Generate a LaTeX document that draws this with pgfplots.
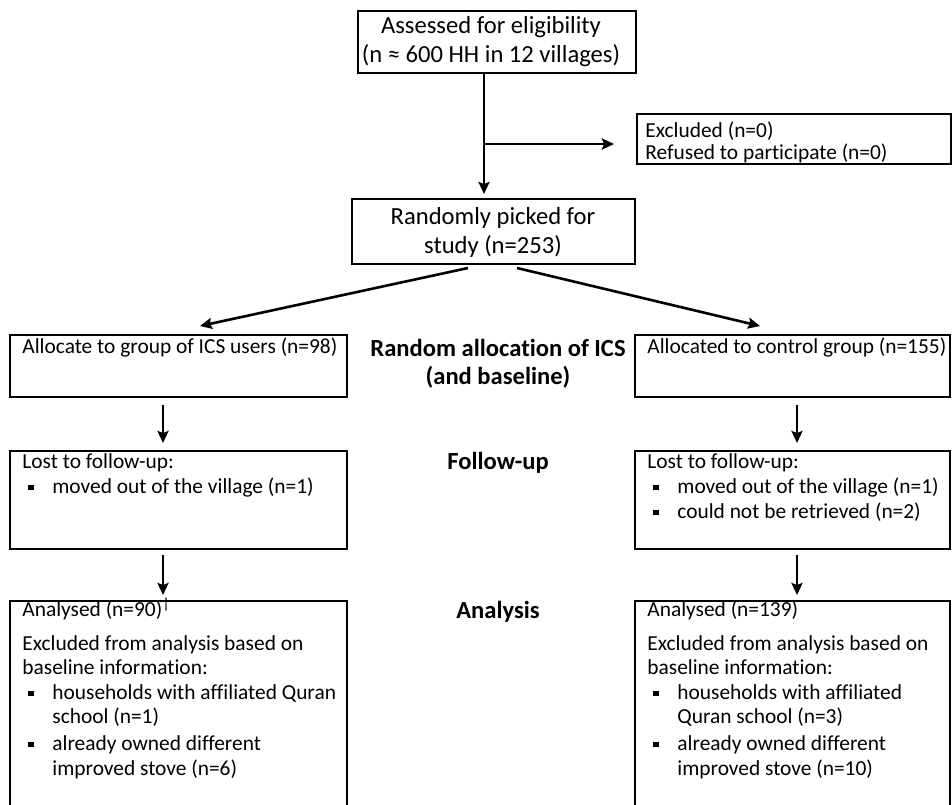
\documentclass[border=0pt]{standalone}
\usepackage{pgfplots}
\pgfplotsset{compat=1.18}
\usetikzlibrary{arrows.meta}
\usepackage{fontspec}
\setmainfont{Carlito}[Ligatures=NoCommon]

% small square bullet as in the source
\newcommand{\bul}{\raisebox{0.3ex}{\rule{2.6pt}{2.6pt}}}

\begin{document}
\begin{tikzpicture}[
    box/.style={black, line width=0.9pt},
    arr/.style={black, line width=1.3pt, -{Stealth[length=6pt,width=5.5pt,inset=1pt]}},
    sm/.style={font=\fontsize{10.7}{12}\selectfont, anchor=base west, inner sep=0pt},
    lg/.style={font=\fontsize{12.3}{14}\selectfont, anchor=base, inner sep=0pt},
    hd/.style={font=\fontsize{12.3}{14}\selectfont\bfseries, anchor=base, inner sep=0pt},
]
\begin{axis}[
    width=476pt, height=402pt, scale only axis,
    xmin=0, xmax=952, ymin=0, ymax=804,
    y dir=reverse,
    hide axis,
    clip=true,
]
% boxes (start mid top edge so the corners join cleanly)
\addplot[box, no marks] coordinates {(500,11) (636,11) (636,73) (358,73) (358,11) (500,11)};
\addplot[box, no marks] coordinates {(800,114) (951,114) (951,164) (637,164) (637,114) (800,114)};
\addplot[box, no marks] coordinates {(500,199) (635,199) (635,264) (352,264) (352,199) (500,199)};
\addplot[box, no marks] coordinates {(180,335) (347,335) (347,397) (10,397) (10,335) (180,335)};
\addplot[box, no marks] coordinates {(790,335) (950,335) (950,397) (635,397) (635,335) (790,335)};
\addplot[box, no marks] coordinates {(180,451) (347,451) (347,549) (10,549) (10,451) (180,451)};
\addplot[box, no marks] coordinates {(790,451) (950,451) (950,549) (635,549) (635,451) (790,451)};
\addplot[box, no marks] coordinates {(10,820) (10,601) (347,601) (347,820)};
\addplot[box, no marks] coordinates {(635,820) (635,601) (950,601) (950,820)};

% connectors
\addplot[black, line width=1.3pt, no marks] coordinates {(484,73) (484,144)};
\addplot[arr, no marks] coordinates {(484,144) (484,194)};
\addplot[arr, no marks] coordinates {(484,144) (614,144)};
\addplot[arr, no marks] coordinates {(468,268) (200,326)};
\addplot[arr, no marks] coordinates {(517,268) (760,326)};
\addplot[arr, no marks] coordinates {(163,405) (163,443)};
\addplot[arr, no marks] coordinates {(797,405) (797,443)};
\addplot[arr, no marks] coordinates {(163,555) (163,595)};
\addplot[arr, no marks] coordinates {(797,555) (797,595)};

% top boxes
\node[lg] at (axis cs:491,33) {Assessed for eligibility};
\node[lg] at (axis cs:491,62) {(n ≈ 600 HH in 12 villages)};
\node[sm] at (axis cs:645,137) {Excluded (n=0)};
\node[sm] at (axis cs:645,159) {Refused to participate (n=0)};
\node[lg] at (axis cs:493,224) {Randomly picked for};
\node[lg] at (axis cs:493,253) {study (n=253)};

% stage labels
\node[hd] at (axis cs:498,356) {Random allocation of ICS};
\node[hd] at (axis cs:498,384) {(and baseline)};
\node[hd] at (axis cs:498,469) {Follow-up};
\node[hd] at (axis cs:498,618) {Analysis};

% allocation
\node[sm] at (axis cs:22,353) {Allocate to group of ICS users (n=98)};
\node[sm] at (axis cs:647,353) {Allocated to control group (n=155)};

% follow-up
\node[sm] at (axis cs:22,468) {Lost to follow-up:};
\node[sm] at (axis cs:28,493) {\bul};
\node[sm] at (axis cs:52,493) {moved out of the village (n=1)};
\node[sm] at (axis cs:647,468) {Lost to follow-up:};
\node[sm] at (axis cs:653,493) {\bul};
\node[sm] at (axis cs:677,493) {moved out of the village (n=1)};
\node[sm] at (axis cs:653,518) {\bul};
\node[sm] at (axis cs:677,518) {could not be retrieved (n=2)};

% analysis, left
\node[sm] at (axis cs:22,616) {Analysed (n=90)\textsuperscript{†}};
\node[sm] at (axis cs:22,650) {Excluded from analysis based on};
\node[sm] at (axis cs:22,674) {baseline information:};
\node[sm] at (axis cs:28,699) {\bul};
\node[sm] at (axis cs:52,699) {households with affiliated Quran};
\node[sm] at (axis cs:52,723) {school (n=1)};
\node[sm] at (axis cs:28,750) {\bul};
\node[sm] at (axis cs:52,750) {already owned different};
\node[sm] at (axis cs:52,775) {improved stove (n=6)};

% analysis, right
\node[sm] at (axis cs:647,616) {Analysed (n=139)};
\node[sm] at (axis cs:647,650) {Excluded from analysis based on};
\node[sm] at (axis cs:647,674) {baseline information:};
\node[sm] at (axis cs:653,699) {\bul};
\node[sm] at (axis cs:677,699) {households with affiliated};
\node[sm] at (axis cs:677,723) {Quran school (n=3)};
\node[sm] at (axis cs:653,750) {\bul};
\node[sm] at (axis cs:677,750) {already owned different};
\node[sm] at (axis cs:677,775) {improved stove (n=10)};
\end{axis}
\pgfresetboundingbox
\path (current axis.south west) rectangle (current axis.north east);
\end{tikzpicture}
\end{document}
